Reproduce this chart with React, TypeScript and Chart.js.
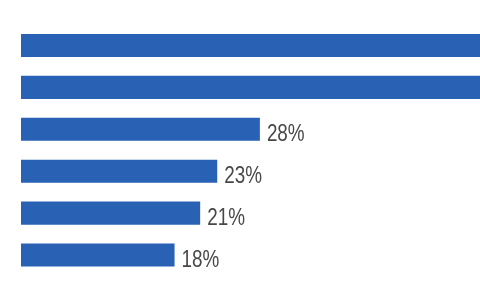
import React, { useEffect, useRef } from "react";
import { Chart, registerables } from "chart.js";

Chart.register(...registerables);

const categories = ["A", "B", "C", "D", "E", "F"];
const values = [62, 58, 28, 23, 21, 18];
const valueLabels = ["62%", "58%", "28%", "23%", "21%", "18%"];

const labelPlugin = {
  id: "valueLabels",
  afterDatasetsDraw(chart: any) {
    const ctx = chart.ctx;
    const meta = chart.getDatasetMeta(0);
    const sx = 0.82;
    meta.data.forEach((el: any, i: number) => {
      const x = el.x + 7;
      if (x >= chart.width) return;
      ctx.save();
      ctx.translate(x, el.y + el.height / 2);
      ctx.scale(sx, 1);
      ctx.font = '23px "Liberation Sans", Arial, sans-serif';
      ctx.fillStyle = "#474747";
      ctx.textAlign = "left";
      ctx.textBaseline = "alphabetic";
      ctx.fillText(valueLabels[i], 0, 0);
      ctx.restore();
    });
  },
};

export default function App() {
  const ref = useRef<HTMLCanvasElement>(null);
  useEffect(() => {
    document.body.style.margin = "0";
    const chart = new Chart(ref.current!, {
      type: "bar",
      data: {
        labels: categories,
        datasets: [
          {
            data: values,
            backgroundColor: "#2962B5",
            borderWidth: 0,
            categoryPercentage: 1,
            barPercentage: 0.55,
          },
        ],
      },
      options: {
        indexAxis: "y",
        animation: false,
        responsive: false,
        layout: { padding: { left: 21, right: 0, top: 24.5, bottom: 24 } },
        plugins: { legend: { display: false }, tooltip: { enabled: false } },
        scales: {
          x: { display: false, min: 0, max: 53.8 },
          y: { display: false },
        },
      },
      plugins: [labelPlugin],
    });
    return () => chart.destroy();
  }, []);
  return (
    <div style={{ width: 480, height: 300 }}>
      <canvas ref={ref} width={480} height={300} />
    </div>
  );
}
